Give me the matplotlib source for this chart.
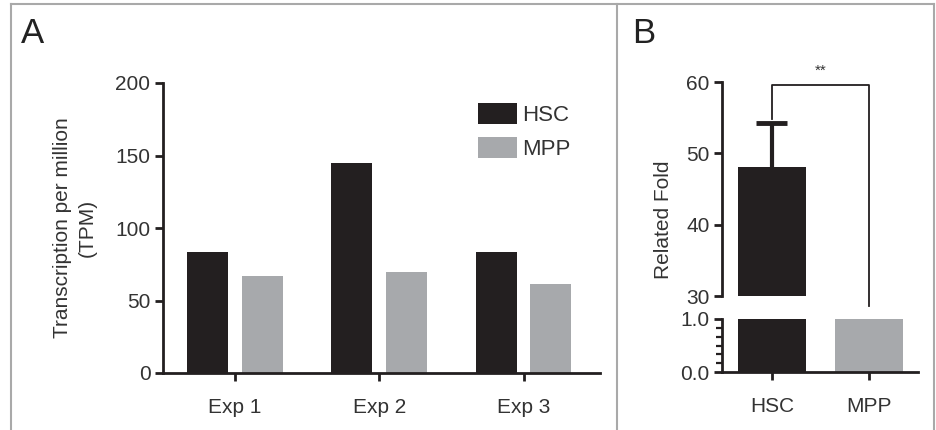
import numpy as np
import matplotlib
matplotlib.use('Agg')
import matplotlib.pyplot as plt
from matplotlib.lines import Line2D
from matplotlib.patches import Patch

plt.rcParams['font.family'] = ['Liberation Sans', 'DejaVu Sans']

# panel A data
experiments = ['Exp 1', 'Exp 2', 'Exp 3']
hsc_tpm = [83.5, 144.5, 83.5]
mpp_tpm = [67, 69.5, 61.5]

# panel B data
cells = ['HSC', 'MPP']
fold = [48.1, 1.0]
fold_err = [6.2, 0.0]

black = '#231f20'
grey = '#a7a9ac'
W, H = 937, 430
fs = 15

fig = plt.figure(figsize=(W / 100, H / 100), dpi=100)


def fx(px):
    return px / W


def fy(py):
    return 1 - py / H


def style_axis(ax):
    for s in ['top', 'right']:
        ax.spines[s].set_visible(False)
    for s in ['left', 'bottom']:
        ax.spines[s].set_linewidth(2)
        ax.spines[s].set_color(black)
    ax.tick_params(width=2, length=6, labelsize=fs, color=black, labelcolor='#333333')
    ax.tick_params(axis='y', pad=3)
    ax.tick_params(axis='x', pad=12)


# ---- panel A ----
axA = fig.add_axes([fx(163), fy(373), fx(600 - 163), fy(83) - fy(373)])
x = np.arange(len(experiments))
bw = 0.284
axA.bar(x - 0.19, hsc_tpm, width=bw, color=black)
axA.bar(x + 0.19, mpp_tpm, width=bw, color=grey)
axA.set_xlim(-0.5, 2.53)
axA.set_ylim(0, 200)
axA.set_yticks([0, 50, 100, 150, 200])
axA.set_xticks(x)
axA.set_xticklabels(experiments)
style_axis(axA)
axA.set_ylabel('Transcription per million\n(TPM)', fontsize=fs, color='#333333', linespacing=1.4)
axA.yaxis.set_label_coords(-0.152, 0.5)
handles = [Patch(facecolor=black, edgecolor='none', label='HSC'),
           Patch(facecolor=grey, edgecolor='none', label='MPP')]
axA.legend(handles=handles, loc='upper left', bbox_to_anchor=(0.675, 1.0), frameon=False,
           fontsize=16, handlelength=1.75, handleheight=1.05, handletextpad=0.25,
           labelspacing=0.5, labelcolor='#333333')

# ---- panel B ----
left_b, right_b = 722, 918
axBt = fig.add_axes([fx(left_b), fy(296), fx(right_b - left_b), fy(82) - fy(296)])
axBb = fig.add_axes([fx(left_b), fy(372), fx(right_b - left_b), fy(319) - fy(372)])
xb = np.arange(len(cells))
for ax in (axBt, axBb):
    ax.bar(xb, fold, width=0.71, color=[black, grey])
    ax.set_xlim(-0.515, 1.505)
    style_axis(ax)
# upper error bar only
err_top = fold[0] + fold_err[0]
axBt.vlines(xb[0], fold[0], err_top, color=black, lw=3)
axBt.hlines(err_top, xb[0] - 0.16, xb[0] + 0.16, color=black, lw=3.5)
axBt.set_ylim(30, 60)
axBt.set_yticks([30, 40, 50, 60])
axBt.spines['bottom'].set_visible(False)
axBt.tick_params(axis='x', bottom=False, labelbottom=False)
axBb.set_ylim(0, 1)
axBb.set_yticks([0, 1])
axBb.set_yticklabels(['0.0', '1.0'])
axBb.set_yticks(np.linspace(0, 1, 7)[1:-1], minor=True)
axBb.tick_params(axis='y', which='minor', length=4, width=1.6, color=black)
axBb.set_xticks(xb)
axBb.set_xticklabels(cells)

# significance bracket
axBt.add_line(Line2D([xb[0], xb[0], xb[1], xb[1]], [54.8, 59.6, 59.6, 28.6],
                     color=black, lw=1.3, clip_on=False))
axBt.text((xb[0] + xb[1]) / 2, 60.6, '**', ha='center', va='bottom', fontsize=11, color='#333333')

fig.text(fx(673), fy(220), 'Related Fold', rotation=90, ha='right', va='center',
         fontsize=fs, color='#333333')

# panel letters
fig.text(fx(21), fy(43), 'A', fontsize=25, color='#222222', ha='left', va='baseline')
fig.text(fx(632), fy(43), 'B', fontsize=25, color='#222222', ha='left', va='baseline')

# frame
frame_c = '#a9a9a9'
for xs, ys in [([11, 11], [4, 430]), ([11, 934], [4, 4]), ([934, 934], [4, 430]),
               ([617, 617], [4, 430])]:
    fig.add_artist(Line2D([fx(v) for v in xs], [fy(v) for v in ys], color=frame_c, lw=1.5))

fig.savefig('out.png', dpi=100, facecolor='white')
